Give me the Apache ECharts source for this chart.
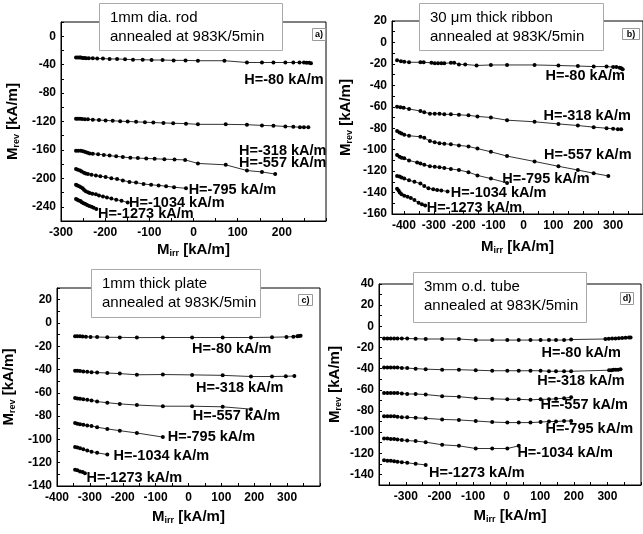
<!DOCTYPE html>
<html>
<head>
<meta charset="utf-8">
<script src="https://cdn.jsdelivr.net/npm/echarts@6/dist/echarts.min.js"></script>
<style>
  html, body { margin: 0; padding: 0; background: #fff; }
  #chart { width: 643px; height: 534px; }
</style>
</head>
<body>
<div id="chart"></div>
<script>
// field labels, same for every panel
var fields = ['H=-80 kA/m', 'H=-318 kA/m', 'H=-557 kA/m', 'H=-795 kA/m', 'H=-1034 kA/m', 'H=-1273 kA/m'];

// a) 1mm dia. rod  [Mirr, Mrev]
var rod80 = [[-266,-30],[-262,-30],[-258,-30],[-255,-30],[-251,-30.5],[-247,-30.5],[-243,-31],[-237,-31],[-228,-31],[-218,-31.5],[-205,-31.5],[-190,-32],[-173,-32],[-155,-32.5],[-137,-33],[-115,-33],[-95,-33.5],[-70,-33.5],[-45,-34],[-18,-34],[10,-34.5],[70,-34.5],[121,-37],[155,-37],[181,-37],[208,-37],[226,-37],[240,-37],[250,-37],[256,-37.5],[262,-37.5],[266,-38]];
var rod318 = [[-266,-116],[-262,-116],[-257,-116],[-252,-116.5],[-246,-117],[-239,-117],[-228,-117.5],[-214,-118],[-199,-118.5],[-183,-119],[-166,-119.5],[-149,-120],[-130,-120.5],[-110,-121],[-91,-121.5],[-68,-122],[-46,-122.5],[-17,-123],[10,-124],[73,-124],[121,-124.5],[155,-125.5],[181,-126],[208,-127],[226,-127.5],[241,-128],[250,-128],[260,-128]];
var rod557 = [[-266,-161],[-261,-161],[-255,-161],[-250,-162],[-245,-163],[-240,-164],[-235,-165],[-228,-165.5],[-216,-166],[-203,-167],[-190,-168],[-175,-169],[-160,-170],[-143,-171],[-126,-171.5],[-107,-172],[-88,-172.5],[-66,-173],[-43,-173.5],[-19,-174],[10,-179],[73,-181],[121,-189],[155,-191],[185,-194]];
var rod795 = [[-266,-187],[-262,-188],[-257,-189],[-253,-190.5],[-248,-192],[-244,-193],[-239,-194],[-231,-195],[-221,-196],[-211,-197],[-199,-198],[-186,-200],[-173,-201],[-160,-203],[-145,-205],[-130,-206],[-113,-208],[-96,-209],[-79,-210],[-62,-211],[-44,-212.5],[-17,-214]];
var rod1034 = [[-266,-209],[-263,-210],[-259,-211],[-255,-212.5],[-251,-214],[-248,-216],[-244,-218],[-239,-219.5],[-235,-220.5],[-229,-221.5],[-221,-222.5],[-214,-224],[-205,-225.5],[-196,-227],[-186,-228.5],[-175,-230],[-163,-231.5],[-149,-234]];
var rod1273 = [[-266,-229],[-263,-230],[-260,-231],[-256,-232],[-253,-233.5],[-249,-235],[-245,-236],[-241,-237.5],[-236,-239],[-231,-240],[-226,-241.5],[-220,-243]];
var rodLabels = [[115,-62],[103,-161],[103,-178],[-11,-217],[-146,-235],[-216,-250]];

// b) 30 um thick ribbon
var rib80 = [[-423,-16.5],[-410,-17.5],[-399,-18],[-383,-18.5],[-345,-18.5],[-334,-18.5],[-308,-19],[-297,-19.5],[-286,-19.5],[-275,-19.5],[-265,-19.5],[-243,-19],[-232,-19],[-216,-20.5],[-195,-20.5],[-157,-21.5],[-109,-21],[-55,-21],[37,-21],[117,-21.5],[182,-22],[235,-22.5],[278,-22.5],[300,-23],[311,-23],[322,-23.5],[327,-24],[332,-25]];
var rib318 = [[-423,-60],[-412,-60.5],[-401,-61],[-383,-62],[-345,-64],[-332,-65],[-313,-66.5],[-297,-66.5],[-281,-66.5],[-265,-67],[-243,-67],[-216,-67.5],[-184,-68],[-154,-69],[-109,-70],[-55,-72.5],[37,-74],[117,-76],[182,-77.5],[235,-79],[278,-80],[300,-80.5],[316,-81],[327,-81]];
var rib557 = [[-423,-82.5],[-415,-84],[-408,-85],[-399,-86],[-383,-87],[-345,-88],[-332,-89],[-313,-92],[-297,-93],[-281,-94],[-265,-94.5],[-243,-95],[-216,-96],[-184,-97],[-154,-99],[-109,-102],[-55,-106],[37,-111],[117,-115.5],[182,-119],[235,-122],[284,-124.5]];
var rib795 = [[-423,-105],[-415,-106.5],[-408,-107.5],[-399,-108],[-383,-110],[-356,-112],[-345,-113],[-332,-114],[-313,-115.5],[-297,-116],[-281,-116.5],[-265,-117],[-243,-118],[-216,-119],[-184,-121],[-154,-124],[-109,-127],[-55,-131]];
var rib1034 = [[-423,-124.5],[-415,-125],[-408,-126],[-399,-127],[-383,-128.5],[-365,-130],[-345,-131.5],[-332,-134],[-318,-136],[-302,-137],[-289,-137.5],[-275,-138],[-254,-139]];
var rib1273 = [[-423,-136.5],[-418,-138],[-414,-140],[-408,-141.5],[-399,-143],[-388,-144],[-377,-145],[-365,-147],[-351,-149.5],[-340,-151],[-329,-152]];
var ribLabels = [[74,-31],[67,-69],[69,-105],[-71,-127],[-243,-140],[-324,-154]];

// c) 1mm thick plate
var pla80 = [[-345,-11.5],[-338,-11.5],[-330,-11.5],[-322,-11.7],[-312,-11.8],[-298,-12],[-278,-12.1],[-247,-12.3],[-209,-12.4],[-157,-12.6],[-78,-12.5],[11,-12.5],[104,-12.5],[190,-12.5],[254,-12.3],[298,-12],[319,-11.8],[331,-11.5],[336,-11.3],[341,-11]];
var pla318 = [[-345,-41],[-338,-41],[-330,-41.3],[-320,-41.6],[-308,-42],[-295,-42.3],[-278,-42.6],[-247,-43],[-209,-43.5],[-157,-44.5],[-78,-44.3],[11,-44.6],[104,-45],[190,-46],[254,-46],[296,-45.8],[322,-45.5]];
var pla557 = [[-345,-64.5],[-338,-64.8],[-330,-65],[-320,-65.5],[-308,-66],[-295,-66.5],[-278,-67.5],[-247,-68.5],[-209,-69.5],[-157,-70.5],[-78,-71.5],[11,-71.5],[104,-72],[190,-74]];
var pla795 = [[-345,-86],[-338,-86.5],[-330,-87],[-320,-87.5],[-308,-88],[-295,-88.5],[-278,-89.5],[-247,-91],[-209,-92.5],[-157,-94.5],[-78,-98]];
var pla1034 = [[-345,-106.5],[-338,-107],[-330,-107.5],[-320,-108.5],[-308,-109.5],[-295,-110.5],[-278,-111.5],[-247,-113]];
var pla1273 = [[-345,-126],[-338,-126.5],[-330,-127.5],[-322,-128],[-315,-129]];
var plaLabels = [[11,-22],[23,-56],[13,-80],[-63,-98],[-228,-114],[-310,-133]];

// d) 3mm o.d. tube
var tub80 = [[-365,-11.5],[-355,-11.5],[-345,-11.5],[-335,-11.5],[-325,-11.5],[-312,-11.5],[-296,-11.5],[-271,-11.8],[-241,-12],[-192,-12],[-142,-12],[-92,-13],[-43,-13],[2,-13],[36,-13],[71,-13],[101,-13],[126,-13],[147,-13],[171,-13],[192,-12.5],[294,-12],[304,-11.8],[314,-11.6],[324,-11.4],[334,-11.2],[344,-11],[354,-10.8],[364,-10.6],[369,-10.5]];
var tub318 = [[-365,-39],[-355,-39],[-345,-39],[-335,-39],[-325,-39],[-312,-39.3],[-296,-39.5],[-271,-40],[-241,-40.5],[-192,-41],[-142,-41],[-92,-41.5],[-43,-42],[2,-42],[36,-42],[71,-42],[101,-42],[126,-42.5],[147,-42.5],[171,-42.5],[192,-42.5],[305,-41.5],[312,-41.5],[318,-41],[325,-41],[332,-41],[339,-40.5]];
var tub557 = [[-365,-63],[-355,-63],[-345,-63],[-335,-63],[-325,-63],[-312,-63.5],[-296,-64],[-271,-64],[-241,-64.5],[-192,-66],[-142,-66.5],[-92,-68],[-43,-68.5],[2,-69],[36,-69],[71,-69.5],[101,-69],[126,-69],[147,-68.5],[171,-68],[192,-67]];
var tub795 = [[-365,-85],[-355,-85],[-345,-85],[-335,-85],[-325,-85.5],[-312,-86],[-296,-86],[-271,-86.5],[-241,-87],[-192,-88],[-142,-88.5],[-92,-89.5],[-43,-90.5],[2,-91],[36,-91],[71,-91],[101,-90.5],[126,-90],[147,-90],[171,-89.5],[192,-89.5]];
var tub1034 = [[-365,-106],[-355,-106],[-345,-106.5],[-335,-106.5],[-325,-107],[-312,-107.5],[-296,-108],[-271,-108.5],[-241,-109.5],[-192,-112],[-142,-113],[-92,-115.5],[-43,-115.5],[2,-115.5],[36,-113]];
var tub1273 = [[-365,-126.5],[-355,-127],[-345,-127],[-335,-127.5],[-325,-128],[-312,-128.5],[-296,-129],[-271,-130],[-241,-131]];
var tubLabels = [[104,-25.6],[91,-51.6],[101,-74],[116,-97.5],[32,-120],[-231,-139]];

// axis tick labels
var xLabelsA = [-300, -200, -100, 0, 100, 200];
var xLabelsB = [-400, -300, -200, -100, 0, 100, 200, 300];
var xLabelsC = [-400, -300, -200, -100, 0, 100, 200, 300];
var xLabelsD = [-300, -200, -100, 0, 100, 200, 300];
var yLabelsA = [-240, -200, -160, -120, -80, -40, 0];
var yLabelsB = [-160, -140, -120, -100, -80, -60, -40, -20, 0, 20];
var yLabelsC = [-140, -120, -100, -80, -60, -40, -20, 0, 20];
var yLabelsD = [-140, -120, -100, -80, -60, -40, -20, 0, 20, 40];

var titles = [
  '1mm dia. rod\nannealed at 983K/5min',
  '30 \u03bcm thick ribbon\nannealed at 983K/5min',
  '1mm thick plate\nannealed at 983K/5min',
  '3mm o.d. tube\nannealed at 983K/5min'
];
var tags = ['a)', 'b)', 'c)', 'd)'];

var FONT = '"Liberation Sans", Arial, sans-serif';

function steps(from, to, step) {
  var out = [];
  for (var v = from; v <= to + 1e-9; v += step) out.push(v);
  return out;
}

var panels = [
  { data: [rod80, rod318, rod557, rod795, rod1034, rod1273], labels: rodLabels,
    x: [-300, 300, xLabelsA, steps(-300, 300, 50)], y: [-260, 20, yLabelsA, steps(-260, 20, 20)],
    grid: { left: 61, right: 317, top: 22, bottom: 313 },
    box: [99, 3, 183, 47], tag: [312, 28, 13, 12], yGap: 40, xGap: 20 },
  { data: [rib80, rib318, rib557, rib795, rib1034, rib1273], labels: ribLabels,
    x: [-440, 400, xLabelsB, steps(-400, 400, 50)], y: [-160, 20, yLabelsB, steps(-160, 20, 10)],
    grid: { left: 392, right: -6, top: 21, bottom: 320 },
    box: [419, 3, 184, 47], tag: [622, 28, 17, 11], yGap: 38, xGap: 24 },
  { data: [pla80, pla318, pla557, pla795, pla1034, pla1273], labels: plaLabels,
    x: [-400, 400, xLabelsC, steps(-400, 400, 50)], y: [-140, 30, yLabelsC, steps(-140, 30, 10)],
    grid: { left: 57, right: 323, top: 288, bottom: 48 },
    box: [91, 269, 169, 48], tag: [298, 294, 14, 11], yGap: 40, xGap: 22 },
  { data: [tub80, tub318, tub557, tub795, tub1034, tub1273], labels: tubLabels,
    x: [-380, 400, xLabelsD, steps(-350, 400, 50)], y: [-150, 40, yLabelsD, steps(-150, 40, 10)],
    grid: { left: 379, right: 2, top: 284, bottom: 49 },
    box: [413, 272, 173, 50], tag: [620, 292, 13, 12], yGap: 36, xGap: 22 }
];

var grids = [], xAxes = [], yAxes = [], series = [], graphics = [];

var nameRich = {
  m: { fontFamily: FONT, fontWeight: 'bold', fontSize: 15, color: '#000' },
  s: { fontFamily: FONT, fontWeight: 'bold', fontSize: 9, color: '#000', padding: [8, 0, 0, 0] }
};

panels.forEach(function (p, i) {
  grids.push(Object.assign({ show: true, borderColor: '#000', borderWidth: 1, backgroundColor: '#fff' }, p.grid));
  xAxes.push({
    type: 'value', gridIndex: i, min: p.x[0], max: p.x[1],
    axisLine: { onZero: false, lineStyle: { color: '#000', width: 1 } },
    axisTick: { inside: true, length: 3, customValues: p.x[3], lineStyle: { color: '#000' } },
    axisLabel: { customValues: p.x[2], color: '#000', fontFamily: FONT, fontWeight: 'bold', fontSize: 12, margin: 6 },
    splitLine: { show: false },
    name: '{m|M}{s|irr}{m| [kA/m]}', nameLocation: 'middle', nameGap: p.xGap,
    nameTextStyle: { rich: nameRich }
  });
  yAxes.push({
    type: 'value', gridIndex: i, min: p.y[0], max: p.y[1],
    axisLine: { onZero: false, lineStyle: { color: '#000', width: 1 } },
    axisTick: { inside: true, length: 3, customValues: p.y[3], lineStyle: { color: '#000' } },
    axisLabel: { customValues: p.y[2], color: '#000', fontFamily: FONT, fontWeight: 'bold', fontSize: 12, margin: 5 },
    splitLine: { show: false },
    name: '{m|M}{s|rev}{m| [kA/m]}', nameLocation: 'middle', nameGap: p.yGap,
    nameTextStyle: { rich: nameRich }
  });
  p.data.forEach(function (d) {
    series.push({
      type: 'line', xAxisIndex: i, yAxisIndex: i, data: d,
      symbol: 'circle', symbolSize: 4, showSymbol: true,
      lineStyle: { color: '#333', width: 1 },
      itemStyle: { color: '#000' },
      silent: true, animation: false
    });
  });
  // field annotations, anchored in data coordinates
  series.push({
    type: 'scatter', xAxisIndex: i, yAxisIndex: i, symbolSize: 0, silent: true, animation: false,
    itemStyle: { opacity: 1, color: '#000' },
    data: p.labels.map(function (c, k) { return { value: c, name: fields[k] }; }),
    label: { show: true, position: 'right', distance: 0, formatter: '{b}', opacity: 1,
      color: '#000', fontFamily: FONT, fontWeight: 'bold', fontSize: 14.5, textBorderWidth: 0 }
  });
  graphics.push({
    type: 'group', x: p.box[0], y: p.box[1], z: 100,
    children: [
      { type: 'rect', shape: { x: 0.5, y: 0.5, width: p.box[2], height: p.box[3] },
        style: { fill: '#fff', stroke: '#aaa', lineWidth: 1 } },
      { type: 'text', x: 11, y: 6,
        style: { text: titles[i], fill: '#000', font: '15px ' + FONT, lineHeight: 18.5 } }
    ]
  });
  graphics.push({
    type: 'group', x: p.tag[0], y: p.tag[1], z: 100,
    children: [
      { type: 'rect', shape: { x: 0.5, y: 0.5, width: p.tag[2], height: p.tag[3] },
        style: { fill: '#fff', stroke: '#999', lineWidth: 1 } },
      { type: 'text', x: p.tag[2] / 2 + 0.5, y: p.tag[3] / 2 + 1,
        style: { text: tags[i], fill: '#000', font: 'bold 9px ' + FONT, align: 'center', verticalAlign: 'middle' } }
    ]
  });
});

var chart = echarts.init(document.getElementById('chart'));
chart.setOption({
  backgroundColor: '#fff',
  animation: false,
  grid: grids,
  xAxis: xAxes,
  yAxis: yAxes,
  series: series,
  graphic: graphics
});
</script>
</body>
</html>
